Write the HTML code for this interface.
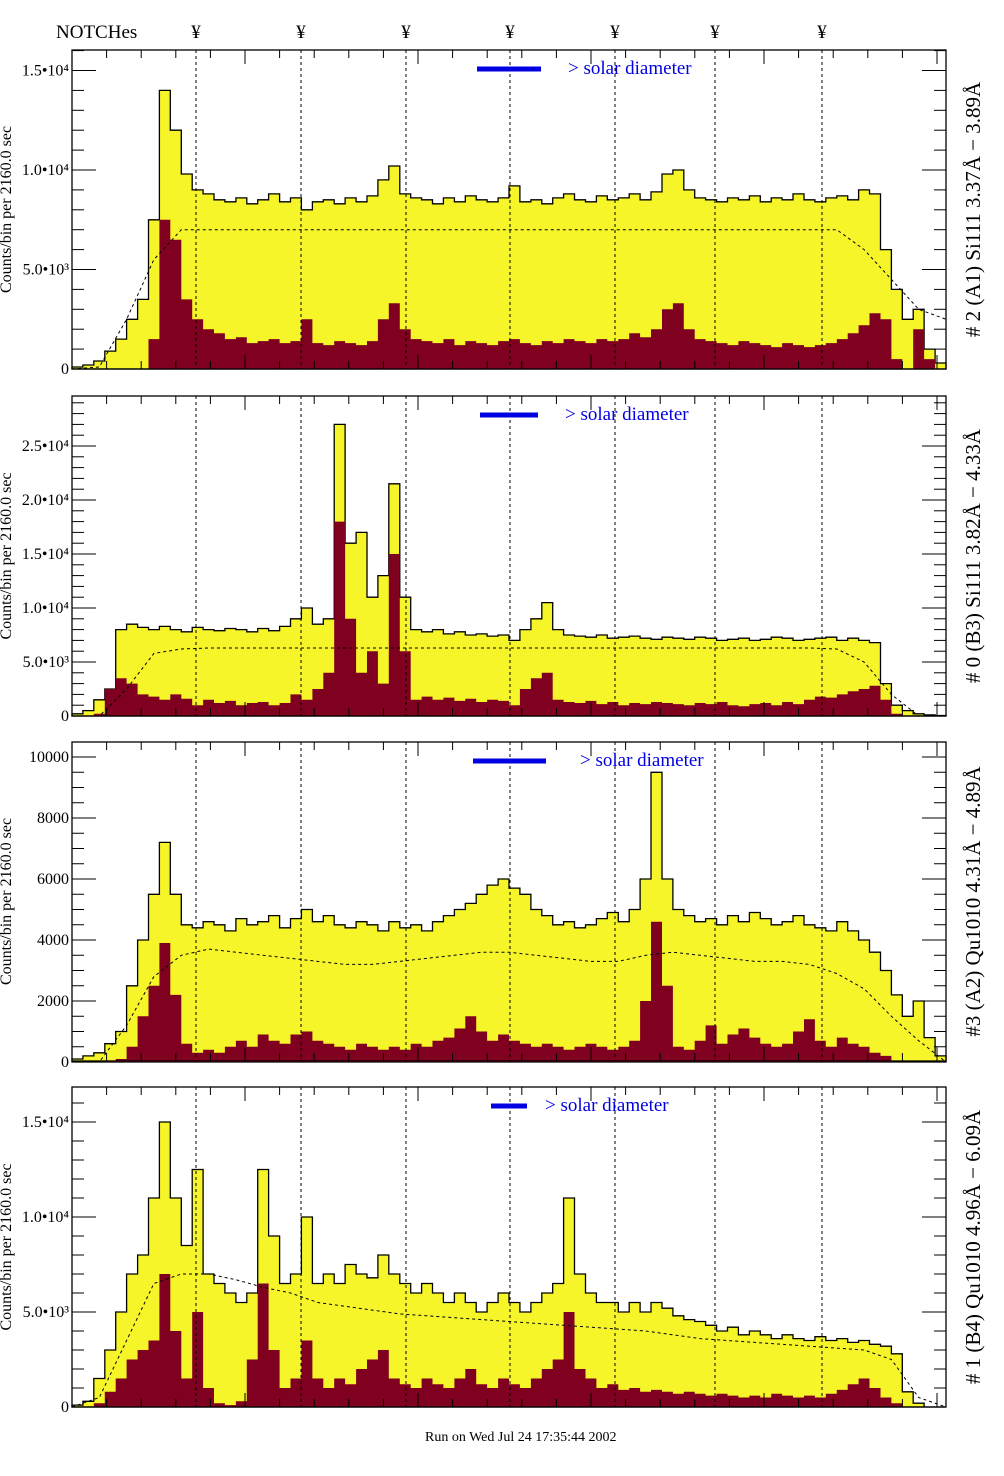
<!DOCTYPE html>
<html><head><meta charset="utf-8"><style>
body{margin:0;background:#fff;width:1004px;height:1476px;overflow:hidden}
svg{display:block;font-family:"Liberation Serif",serif}
</style></head><body>
<svg id="chart" width="1004" height="1476" viewBox="0 0 1004 1476"></svg>
<script>
// ---- data ----
const notchX = [196,301,406,510,615,715,822];
const panelLabels = ["# 2 (A1) Si111  3.37Å − 3.89Å","# 0 (B3) Si111  3.82Å − 4.33Å","#3 (A2) Qu1010  4.31Å − 4.89Å","# 1 (B4) Qu1010 4.96Å − 6.09Å"];
const yTicks1 = [0,5000,10000,15000];
const yTickLabels1 = ["0","5.0•10³","1.0•10⁴","1.5•10⁴"];
const yTicks2 = [0,5000,10000,15000,20000,25000];
const yTickLabels2 = ["0","5.0•10³","1.0•10⁴","1.5•10⁴","2.0•10⁴","2.5•10⁴"];
const yTicks3 = [0,2000,4000,6000,8000,10000];
const yTickLabels3 = ["0","2000","4000","6000","8000","10000"];
const yTicks4 = [0,5000,10000,15000];
const yTickLabels4 = ["0","5.0•10³","1.0•10⁴","1.5•10⁴"];
const total1 = [100,200,400,900,1500,2500,3500,7500,14000,12000,9800,9000,8800,8500,8400,8600,8300,8500,8800,8400,8600,8000,8400,8500,8300,8600,8400,8700,9500,10200,8800,8600,8500,8300,8600,8400,8700,8500,8400,8600,9200,8400,8500,8300,8600,8800,8500,8400,8700,8500,8600,8800,8500,8900,9800,10000,9000,8600,8500,8400,8600,8500,8700,8400,8600,8500,8800,8500,8400,8600,8700,8500,9000,8800,6000,4000,2500,3000,1000,300];
const sub1 = [0,0,0,0,0,0,0,1500,7500,6500,3500,2500,2000,1800,1500,1600,1300,1400,1500,1300,1400,2500,1300,1200,1400,1300,1200,1400,2500,3300,2000,1500,1400,1300,1500,1200,1400,1300,1200,1400,1500,1300,1200,1400,1300,1500,1400,1300,1500,1400,1500,1800,1600,2000,3000,3300,2000,1500,1400,1300,1200,1400,1300,1200,1100,1300,1200,1100,1200,1300,1500,1800,2200,2800,2500,500,0,2000,500,0];
const fit1 = [0,100,2500,5500,7000,7000,7000,7000,7000,7000,7000,7000,7000,7000,7000,7000,7000,7000,7000,7000,7000,7000,7000,7000,7000,7000,7000,7000,7000,6000,4500,3000,2500];
const total2 = [200,500,1500,2500,8000,8500,8200,8000,8300,8000,7800,8200,8000,7900,8100,8000,7800,8100,7900,8300,9000,10000,8500,9000,27000,16000,17000,11000,13000,21500,11000,8000,7800,8000,7600,7800,7500,7600,7400,7500,7000,8000,9000,10500,8000,7500,7400,7300,7500,7200,7300,7400,7200,7100,7300,7200,7100,7300,7200,7000,7100,7200,7000,7100,7300,7200,7000,7100,7200,7300,7000,7200,7000,6800,3000,1000,500,200,100,50];
const sub2 = [0,0,200,2500,3500,3000,2000,1800,1500,2000,1600,1000,1500,1200,1400,1000,1200,1300,1000,1200,2000,1500,2500,4000,18000,9000,4000,6000,3000,15000,6000,1500,1800,1500,1700,1400,1600,1300,1500,1400,1000,2500,3500,4000,1500,1300,1200,1400,1100,1300,1000,1200,1100,1300,1200,1100,1000,1200,1100,1300,1000,900,1100,1200,1000,1300,1100,1500,1800,1700,2000,2300,2500,2800,1500,200,0,0,0,0];
const fit2 = [0,0,2500,5800,6200,6300,6300,6300,6300,6300,6300,6300,6300,6300,6300,6300,6300,6300,6300,6300,6300,6300,6300,6300,6300,6300,6300,6300,6200,5000,2000,0,0];
const total3 = [100,200,300,600,1000,2500,4000,5500,7200,5500,4500,4400,4600,4500,4300,4700,4500,4600,4800,4400,4700,5000,4600,4800,4500,4400,4600,4500,4300,4600,4400,4500,4300,4600,4800,5000,5200,5500,5800,6000,5700,5500,5000,4800,4500,4600,4400,4500,4700,4900,4600,5000,6000,9500,6000,5000,4800,4600,4700,4500,4800,4600,4900,4700,4500,4600,4800,4500,4400,4300,4600,4300,4000,3600,3000,2200,1500,2000,800,200];
const sub3 = [0,0,0,50,100,500,1500,2500,3900,2200,600,300,400,300,500,700,500,900,700,600,900,1000,700,600,500,400,600,500,400,500,400,600,500,700,800,1100,1500,1000,700,900,700,600,500,600,500,400,500,600,500,400,500,700,2000,4600,2500,500,400,700,1200,600,900,1100,800,600,500,600,1000,1400,700,500,800,600,500,300,200,0,0,0,0,0];
const fit3 = [0,0,1200,2800,3500,3700,3600,3500,3400,3300,3200,3200,3300,3400,3500,3600,3600,3500,3400,3300,3300,3500,3600,3500,3400,3300,3300,3200,2900,2400,1500,700,0];
const total4 = [100,300,1500,3000,5000,7000,8000,11000,15000,11000,8500,12500,7000,6500,6000,5500,6000,12500,9000,6500,7000,10000,6500,7000,6500,7500,7000,6800,8000,7000,6500,6000,6500,6000,5500,6000,5500,5000,5500,6000,5500,5000,5500,6000,6500,11000,7000,6000,5500,5500,5000,5500,5000,5500,5200,4800,4600,4500,4300,4000,4200,3800,4000,3800,3600,3800,3600,3500,3700,3500,3600,3400,3500,3300,3200,2800,800,200,0,0];
const sub4 = [0,0,200,800,1500,2500,3000,3500,7000,4000,1500,5000,1000,200,100,300,2500,6500,3000,1000,1500,3500,1500,1000,1500,1200,2000,2500,3000,1500,1200,1000,1500,1200,1000,1500,2000,1200,1000,1500,1200,1000,1500,2000,2500,5000,2000,1500,1000,1200,900,1000,800,900,800,700,800,700,600,700,600,500,600,500,700,600,500,600,500,700,900,1200,1500,1000,500,200,0,0,0,0];
const fit4 = [0,500,3500,6500,7000,7000,6700,6300,6000,5500,5300,5100,4900,4800,4700,4600,4500,4400,4300,4200,4100,4000,3800,3600,3500,3400,3300,3200,3100,3000,2500,500,0];
const legendBars = [[477,541,568],[480,538,565],[473,546,580],[491,527,545]];

// ---- layout ----
const svg = document.getElementById('chart');
const NS = 'http://www.w3.org/2000/svg';
const X0 = 72, X1 = 946;
const panels = [
 {top:50,bot:369,zero:369,ppu:99.5/5000,total:total1,sub:sub1,fit:fit1,ticks:yTicks1,labels:yTickLabels1,minor:1000},
 {top:396,bot:716,zero:716,ppu:54/5000,total:total2,sub:sub2,fit:fit2,ticks:yTicks2,labels:yTickLabels2,minor:1000},
 {top:742,bot:1061,zero:1062,ppu:30.5/1000,total:total3,sub:sub3,fit:fit3,ticks:yTicks3,labels:yTickLabels3,minor:500},
 {top:1087,bot:1407,zero:1407,ppu:95/5000,total:total4,sub:sub4,fit:fit4,ticks:yTicks4,labels:yTickLabels4,minor:1000}
];
function mk(tag, attrs, parent){const e=document.createElementNS(NS,tag);for(const k in attrs)e.setAttribute(k,attrs[k]);(parent||svg).appendChild(e);return e;}
function xScale(i,n){return X0+(X1-X0)*i/n;}

let t = mk('text',{x:56,y:38,'font-size':19,fill:'#000'});


t.textContent='NOTCHes';
notchX.forEach(x=>{
 const s=mk('text',{x:x,y:38,'font-size':19,'text-anchor':'middle',fill:'#000'});
 
 
 s.textContent='¥';
});

panels.forEach((p,pi)=>{
 const g=mk('g',{});
 
 
 const yS=v=>Math.max(p.top,p.zero-v*p.ppu);
 const n=p.total.length;
 function stepPath(arr){
  let d='M'+X0+','+p.zero;
  arr.forEach((v,i)=>{d+=' L'+xScale(i,n).toFixed(1)+','+yS(v).toFixed(1)+' L'+xScale(i+1,n).toFixed(1)+','+yS(v).toFixed(1);});
  return d+' L'+X1+','+p.zero;
 }
 const yl=mk('path',{d:stepPath(p.total)+' Z',fill:'#f5f52a',stroke:'#000','stroke-width':1.3},g);
 
 
 const rd=mk('path',{d:stepPath(p.sub)+' Z',fill:'#800020',stroke:'none'},g);
 
 
 let fd='';
 p.fit.forEach((v,k)=>{const x=X0+(X1-X0)*k/(p.fit.length-1);fd+=(k?' L':'M')+x.toFixed(1)+','+yS(v).toFixed(1);});
 const fl=mk('path',{d:fd,fill:'none',stroke:'#000','stroke-width':1,'stroke-dasharray':'3,3'},g);
 
 
 notchX.forEach(x=>{
  const l=mk('line',{x1:x,x2:x,y1:p.top,y2:p.bot,stroke:'#000','stroke-width':1,'stroke-dasharray':'3,3'},g);
  
  
 });
 const fr=mk('rect',{x:X0,y:p.top,width:X1-X0,height:p.bot-p.top,fill:'none',stroke:'#000','stroke-width':1.3},g);
 
 
 for(let k=0;k*34.6+X0<X1;k++){
  const x=X0+k*34.6, len=(k%5==0)?14:8;
  mk('line',{x1:x,x2:x,y1:p.top,y2:p.top+len,stroke:'#000'},g);
  mk('line',{x1:x,x2:x,y1:p.bot,y2:p.bot-len,stroke:'#000'},g);
 }
 const maxV=(p.zero-p.top)/p.ppu;
 for(let v=0;v<=maxV;v+=p.minor){
  const y=p.zero-v*p.ppu;
  const major=p.ticks.includes(v);
  mk('line',{x1:X0,x2:X0+(major?24:12),y1:y,y2:y,stroke:'#000'},g);
  mk('line',{x1:X1,x2:X1-(major?24:12),y1:y,y2:y,stroke:'#000'},g);
 }
 p.ticks.forEach((v,k)=>{
  const tl=mk('text',{x:X0-3,y:p.zero-v*p.ppu+5,'font-size':16,'text-anchor':'end',fill:'#000'},g);
  
  
  tl.textContent=p.labels[k];
 });
 const cy=(p.top+p.bot)/2;
 const ya=mk('text',{x:0,y:0,'font-size':16,'text-anchor':'middle',fill:'#000',transform:`translate(11,${cy}) rotate(-90)`},g);
 
 
 ya.textContent='Counts/bin per  2160.0 sec';
 const rl=mk('text',{x:0,y:0,'font-size':21,'text-anchor':'middle',fill:'#000',transform:`translate(980,${cy}) rotate(-90)`},g);
 
 
 rl.textContent=panelLabels[pi];
 const lb=legendBars[pi];
 const bar=mk('line',{x1:lb[0],x2:lb[1],y1:p.top+19,y2:p.top+19,stroke:'#0000e0','stroke-width':5},g);
 
 
 const lt=mk('text',{x:lb[2],y:p.top+24,'font-size':19,fill:'#0000e0'},g);
 
 
 lt.textContent='> solar diameter';
});
const ft=mk('text',{x:425,y:1441,'font-size':14,fill:'#000'});


ft.textContent='Run on Wed Jul 24 17:35:44 2002';
</script>
</body></html>
